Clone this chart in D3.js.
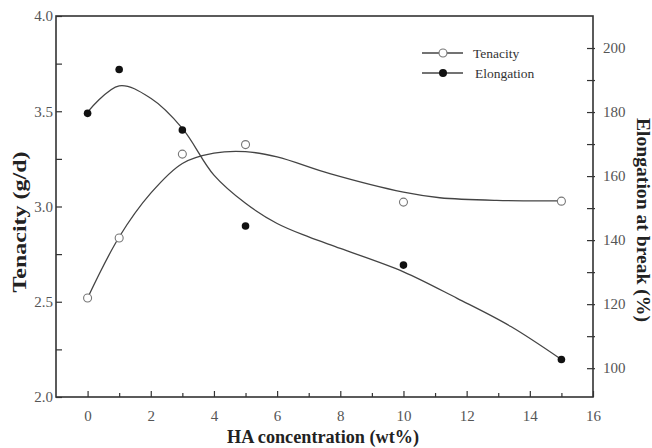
<!DOCTYPE html>
<meta charset="utf-8">
<style>
body { margin: 0; background: #fff; }
text { font-family: "Liberation Serif", "Times New Roman", serif; }
.tick text { fill: #555; font-size: 15px; }
.title { font-weight: bold; font-size: 18px; fill: #222; }
</style>
<body>
<script src="https://d3js.org/d3.v7.min.js"></script>
<script>
// measured points
var conc = [0, 1, 3, 5, 10, 15];
var tenacity = [2.52, 2.835, 3.275, 3.325, 3.023, 3.028];
var elongation = [179.6, 193.3, 174.4, 144.4, 132.2, 102.7];

// fitted curves
var tenFitX = [0, 1, 2, 3, 4, 5, 6, 7.67, 10, 11.15, 12.95, 15];
var tenFitY = [2.52, 2.84, 3.07, 3.226, 3.28, 3.288, 3.26, 3.172, 3.075, 3.046, 3.032, 3.03];
var elFitX = [0, 1, 2, 3, 4, 5, 6, 7, 8, 10, 11.7, 13.4, 15];
var elFitY = [180, 188.2, 184.3, 174.9, 160.3, 151.5, 145.2, 141, 137.4, 130.1, 121.8, 113, 102.7];

var xTicks = [0, 2, 4, 6, 8, 10, 12, 14, 16];
var leftTicks = [2.0, 2.5, 3.0, 3.5, 4.0];
var rightTicks = [100, 120, 140, 160, 180, 200];

var W = 652, H = 448;
var plotL = 56, plotR = 593, plotT = 16, plotB = 397;

var svg = d3.select("body").append("svg")
    .attr("width", W)
    .attr("height", H);

var x = d3.scaleLinear().domain([-1, 16]).range([plotL, plotR]);
var yL = d3.scaleLinear().domain([2.0, 4.0]).range([plotB, plotT]);
var yR = d3.scaleLinear().domain([91, 210]).range([plotB, plotT]);

var ink = "#333";

// frame
svg.append("rect")
    .attr("x", plotL).attr("y", plotT)
    .attr("width", plotR - plotL).attr("height", plotB - plotT)
    .attr("fill", "none").attr("stroke", ink).attr("stroke-width", 1.6);

// x axis: major ticks with labels, minor at odd values
svg.append("g")
    .attr("transform", "translate(0," + plotB + ")")
    .call(d3.axisBottom(x).tickValues(xTicks).tickSize(-6).tickPadding(13).tickFormat(d3.format("d")));
svg.append("g")
    .attr("transform", "translate(0," + plotB + ")")
    .call(d3.axisBottom(x).tickValues(d3.range(1, 16, 2)).tickSize(-4).tickFormat(""));

svg.append("g")
    .attr("transform", "translate(" + plotL + ",0)")
    .call(d3.axisLeft(yL).tickValues(leftTicks).tickSize(-6).tickPadding(3).tickFormat(d3.format(".1f")));
svg.append("g")
    .attr("transform", "translate(" + plotL + ",0)")
    .call(d3.axisLeft(yL).tickValues([2.25, 2.75, 3.25, 3.75]).tickSize(-6).tickFormat(""));

var yRAx = svg.append("g")
    .attr("transform", "translate(" + plotR + ",0)")
    .call(d3.axisRight(yR).tickValues(rightTicks).tickSize(-6).tickPadding(10).tickFormat(d3.format("d")));
var yRMinor = svg.append("g")
    .attr("transform", "translate(" + plotR + ",0)")
    .call(d3.axisRight(yR).tickValues([110, 130, 150, 170, 190]).tickSize(-6).tickFormat(""));

svg.selectAll(".domain").remove();
svg.selectAll(".tick line").attr("stroke", ink).attr("stroke-width", 1.2);
// right ticks straddle the frame a little
yRAx.selectAll(".tick line").attr("x2", -6).attr("x1", 2);
yRMinor.selectAll(".tick line").attr("x2", -6).attr("x1", 2);

// fitted curves
var lineTen = d3.line()
    .x(function(d, i) { return x(tenFitX[i]); })
    .y(function(d) { return yL(d); })
    .curve(d3.curveCatmullRom);
var lineEl = d3.line()
    .x(function(d, i) { return x(elFitX[i]); })
    .y(function(d) { return yR(d); })
    .curve(d3.curveCatmullRom);

svg.append("path").attr("d", lineTen(tenFitY))
    .attr("fill", "none").attr("stroke", "#444").attr("stroke-width", 1.3);
svg.append("path").attr("d", lineEl(elFitY))
    .attr("fill", "none").attr("stroke", "#444").attr("stroke-width", 1.3);

// markers
svg.selectAll(".ten").data(tenacity).enter().append("circle")
    .attr("class", "ten")
    .attr("cx", function(d, i) { return x(conc[i]); })
    .attr("cy", function(d) { return yL(d); })
    .attr("r", 4)
    .attr("fill", "#fff").attr("stroke", "#777").attr("stroke-width", 1.1);
svg.selectAll(".el").data(elongation).enter().append("circle")
    .attr("class", "el")
    .attr("cx", function(d, i) { return x(conc[i]); })
    .attr("cy", function(d) { return yR(d); })
    .attr("r", 3.8)
    .attr("fill", "#111");

// legend
var leg = svg.append("g");
[["Tenacity", 53, true], ["Elongation", 73, false]].forEach(function(l) {
  leg.append("line").attr("x1", 422).attr("x2", 463).attr("y1", l[1]).attr("y2", l[1])
      .attr("stroke", "#444").attr("stroke-width", 1.3);
  leg.append("circle").attr("cx", 443).attr("cy", l[1]).attr("r", 4)
      .attr("fill", l[2] ? "#fff" : "#111").attr("stroke", l[2] ? "#777" : "none").attr("stroke-width", 1.1);
  leg.append("text").attr("x", l[2] ? 473 : 475).attr("y", l[1] + 4.5)
      .attr("font-size", 13.5).attr("fill", "#333").text(l[0]);
});

// titles
svg.append("text").attr("class", "title")
    .attr("x", 323).attr("y", 443).attr("text-anchor", "middle")
    .attr("textLength", 192).attr("lengthAdjust", "spacingAndGlyphs")
    .text("HA concentration (wt%)");
svg.append("text").attr("class", "title")
    .attr("transform", "translate(26,222) rotate(-90)").attr("text-anchor", "middle")
    .attr("textLength", 141).attr("lengthAdjust", "spacingAndGlyphs")
    .text("Tenacity (g/d)");
svg.append("text").attr("class", "title")
    .attr("transform", "translate(637,220) rotate(90)").attr("text-anchor", "middle")
    .attr("textLength", 204).attr("lengthAdjust", "spacingAndGlyphs")
    .text("Elongation at break (%)");
</script>
</body>
